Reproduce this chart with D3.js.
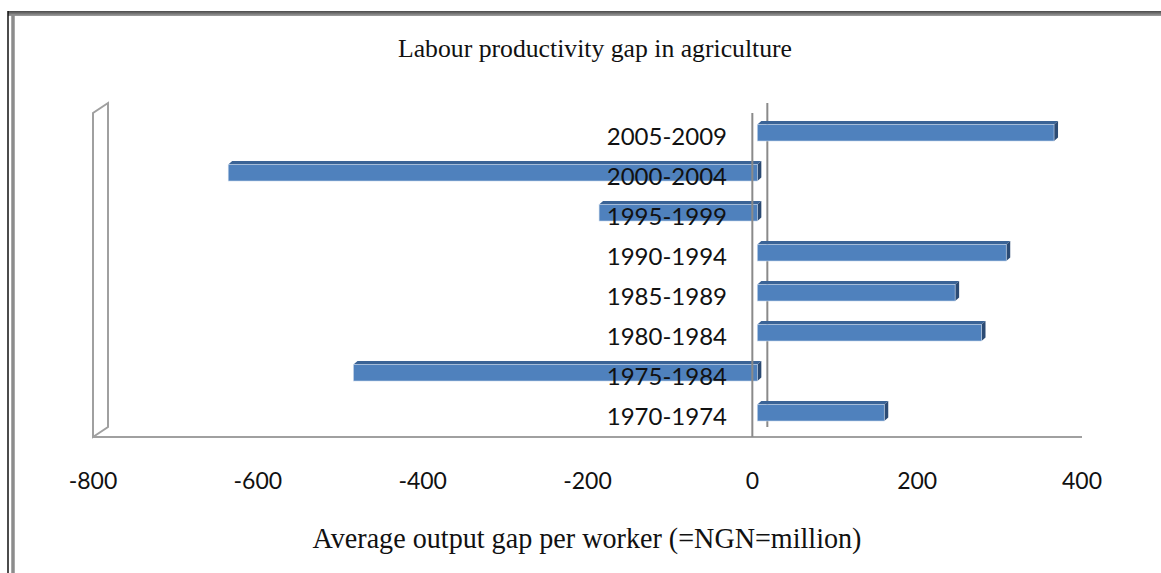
<!DOCTYPE html>
<html>
<head>
<meta charset="utf-8">
<script src="https://cdn.jsdelivr.net/npm/d3@7"></script>
<style>
  body { margin: 0; background: #fff; }
</style>
</head>
<body>
<div id="chart-area"></div>
<script>
// data
const periods = ["2005-2009", "2000-2004", "1995-1999", "1990-1994",
                 "1985-1989", "1980-1984", "1975-1984", "1970-1974"];
const gaps = [360, -642, -192, 302, 240, 272, -490, 154];
const ticks = [-800, -600, -400, -200, 0, 200, 400];
const title = "Labour productivity gap in agriculture";
const xTitle = "Average output gap per worker (=NGN=million)";

const W = 1161, H = 573;
// 3d offset of the back plane
const dx = 15, dy = -10;

const svg = d3.select("#chart-area")
  .append("svg")
  .attr("width", W)
  .attr("height", H);

// frame
const defs = svg.append("defs");
const grad = defs.append("linearGradient")
  .attr("id", "topgrad")
  .attr("x1", 0).attr("y1", 0).attr("x2", 0).attr("y2", 1);
grad.append("stop").attr("offset", "0%").attr("stop-color", "#4a4a4a");
grad.append("stop").attr("offset", "100%").attr("stop-color", "#a0a0a0");

svg.append("rect")
  .attr("x", 8).attr("y", 11)
  .attr("width", W - 8).attr("height", 5)
  .attr("fill", "url(#topgrad)");
svg.append("line")
  .attr("x1", 8).attr("x2", 8).attr("y1", 11).attr("y2", H)
  .attr("stroke", "#111").attr("stroke-width", 1.5);
svg.append("line")
  .attr("x1", 13).attr("x2", 13).attr("y1", 14).attr("y2", H)
  .attr("stroke", "#8c8c8c").attr("stroke-width", 3.5);

const x = d3.scaleLinear()
  .domain([-800, 400])
  .range([93, 1082]);

const y = d3.scaleBand()
  .domain(periods)
  .range([117, 437]);

const bw = y.bandwidth();
const yTop = 113, yBottom = 437;

// left wall
svg.append("polygon")
  .attr("points", [
    [x(-800), yBottom], [x(-800), yTop], [x(-800) + dx, yTop + dy], [x(-800) + dx, yBottom + dy]
  ].map(p => p.join(",")).join(" "))
  .attr("fill", "#fff")
  .attr("stroke", "#a0a0a0")
  .attr("stroke-width", 2);

// floor front edge
svg.append("line")
  .attr("x1", x(-800)).attr("x2", x(400))
  .attr("y1", yBottom).attr("y2", yBottom)
  .attr("stroke", "#a0a0a0").attr("stroke-width", 2);

// back zero line (behind bars)
svg.append("line")
  .attr("x1", x(0) + dx).attr("x2", x(0) + dx)
  .attr("y1", yTop + dy).attr("y2", yBottom + dy)
  .attr("stroke", "#8a8a8a").attr("stroke-width", 2);

// bars
const bx = 5;        // shift into depth
const bd = 4;        // bar depth (x)
const bdy = -3.5;    // bar depth (y)
const fh = 16.5;     // front face height
const data = periods.map((p, i) => ({ p: p, v: gaps[i] }));

const bars = svg.selectAll("g.bar")
  .data(data)
  .enter().append("g")
  .attr("class", "bar");

bars.each(function(d) {
  const g = d3.select(this);
  const x0 = Math.min(x(0), x(d.v)) + bx;
  const x1 = Math.max(x(0), x(d.v)) + bx;
  const y0 = y(d.p) + 7.5;
  // top face
  g.append("polygon")
    .attr("points", [[x0, y0], [x0 + bd, y0 + bdy], [x1 + bd, y0 + bdy], [x1, y0]]
      .map(p => p.join(",")).join(" "))
    .attr("fill", "#3a6396");
  // end face
  g.append("polygon")
    .attr("points", [[x1, y0], [x1 + bd, y0 + bdy], [x1 + bd, y0 + fh + bdy], [x1, y0 + fh]]
      .map(p => p.join(",")).join(" "))
    .attr("fill", "#2c4b74");
  // front face
  g.append("rect")
    .attr("x", x0)
    .attr("y", y0)
    .attr("width", x1 - x0)
    .attr("height", fh)
    .attr("fill", "#4f81bd")
    .attr("stroke", "#c6d6ea")
    .attr("stroke-width", 0.6);
});

// front zero line
svg.append("line")
  .attr("x1", x(0)).attr("x2", x(0))
  .attr("y1", yTop).attr("y2", yBottom)
  .attr("stroke", "#8a8a8a").attr("stroke-width", 2);

// category labels
svg.selectAll("text.cat")
  .data(periods)
  .enter().append("text")
  .attr("class", "cat")
  .attr("x", 727)
  .attr("y", d => y(d) + bw / 2)
  .attr("dy", "0.33em")
  .attr("text-anchor", "end")
  .attr("font-family", "Lato, sans-serif")
  .attr("font-size", "24px")
  .attr("fill", "#111")
  .text(d => d);

// tick labels
svg.selectAll("text.tick")
  .data(ticks)
  .enter().append("text")
  .attr("class", "tick")
  .attr("x", d => x(d))
  .attr("y", 481)
  .attr("dy", "0.35em")
  .attr("text-anchor", "middle")
  .attr("font-family", "Lato, sans-serif")
  .attr("font-size", "23px")
  .attr("fill", "#111")
  .text(d => d);

// titles
svg.append("text")
  .attr("x", 595)
  .attr("y", 57)
  .attr("text-anchor", "middle")
  .attr("font-family", "'Liberation Serif', serif")
  .attr("font-size", "25px")
  .attr("textLength", 394)
  .attr("lengthAdjust", "spacingAndGlyphs")
  .attr("fill", "#111")
  .text(title);

svg.append("text")
  .attr("x", 587)
  .attr("y", 548)
  .attr("text-anchor", "middle")
  .attr("font-family", "'Liberation Serif', serif")
  .attr("font-size", "29px")
  .attr("textLength", 549)
  .attr("lengthAdjust", "spacingAndGlyphs")
  .attr("fill", "#111")
  .text(xTitle);
</script>
</body>
</html>
